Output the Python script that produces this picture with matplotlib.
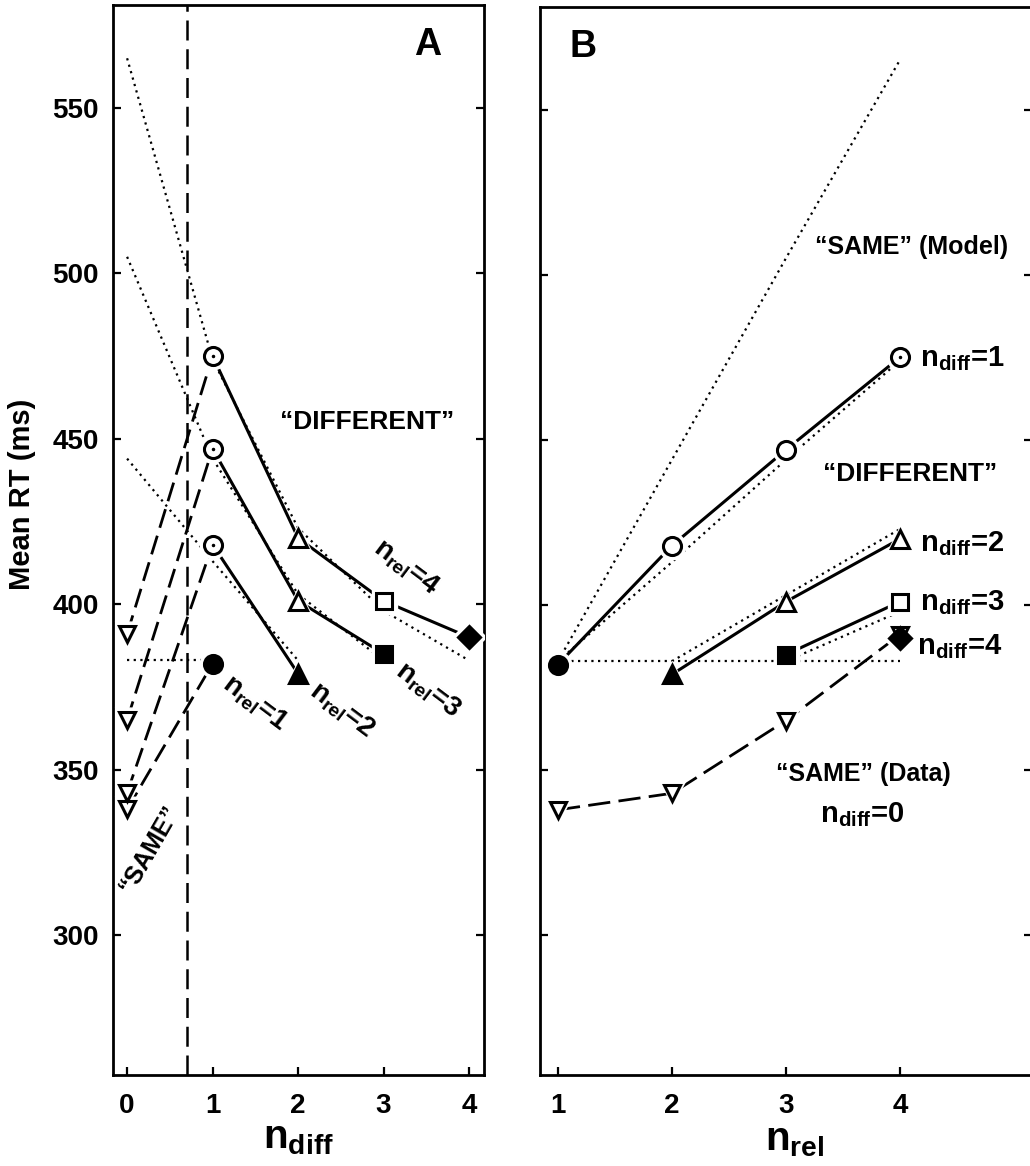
import matplotlib
matplotlib.use('Agg')
import matplotlib.pyplot as plt

plt.rcParams['font.family'] = ['Liberation Sans', 'DejaVu Sans']
plt.rcParams['font.weight'] = 'bold'
plt.rcParams['mathtext.fontset'] = 'custom'
plt.rcParams['mathtext.rm'] = 'Liberation Sans:bold'
plt.rcParams['mathtext.it'] = 'Liberation Sans:bold'
plt.rcParams['mathtext.bf'] = 'Liberation Sans:bold'

# mean RT (ms) for each n_rel, indexed by n_diff (n_diff=0 -> "SAME")
n_diff = [0, 1, 2, 3, 4]
n_rel = [1, 2, 3, 4]
rt_rel1 = [338, 382]
rt_rel2 = [343, 418, 379]
rt_rel3 = [365, 447, 401, 385]
rt_rel4 = [391, 475, 420, 401, 390]

# model predictions (dotted lines)
model_rel1 = [383, 383]
model_rel2 = [444, 413, 383]
model_rel3 = [505, 444, 403, 383]
model_rel4 = [565, 474, 423, 398, 383]

yticks = [300, 350, 400, 450, 500, 550]

rt_data = [rt_rel1, rt_rel2, rt_rel3, rt_rel4]
model = [model_rel1, model_rel2, model_rel3, model_rel4]

markers = ['v', 'o', '^', 's', 'D']   # by n_diff
msizes = [12, 13, 13, 12, 11]
dotted = (0, (1, 2))

fig = plt.figure(figsize=(10.3, 11.66), dpi=100)
ax1 = fig.add_axes([113/1030, 91/1166, 371/1030, 1070/1166])
ax2 = fig.add_axes([540/1030, 91/1166, 492/1030, 1068/1166])


def put_marker(ax, x, y, d, rel, dot=False):
    filled = (d == rel)
    m = markers[d]
    ms = msizes[d]
    ax.plot(x, y, marker=m, ms=ms + 6, color='white', mec='white', zorder=3)
    ax.plot(x, y, marker=m, ms=ms, mfc='black' if filled else 'white',
            mec='black', mew=2.2, zorder=4, linestyle='none')
    if dot:
        ax.plot(x, y, marker='.', ms=3, color='black', zorder=5)


# ---- panel A : x = n_diff
for i, rel in enumerate(n_rel):
    xs = n_diff[:rel + 1]
    rts = rt_data[i]
    ax1.plot(xs, model[i], linestyle=dotted, color='black', lw=1.6, zorder=1)
    ax1.plot(xs[:2], rts[:2], color='black', lw=2, dashes=(7, 3), zorder=2)
    if rel > 1:
        ax1.plot(xs[1:], rts[1:], color='black', lw=2.2, zorder=2)
    for d, v in zip(xs, rts):
        put_marker(ax1, d, v, d, rel, dot=(d == 1 and rel > 1))

ax1.axvline(0.70, color='black', lw=1.8, dashes=(8, 3.5), zorder=1)

ax1.text(3.52, 569, 'A', fontsize=27, ha='center', va='center')
ax1.text(2.81, 455, '\u201cDIFFERENT\u201d', fontsize=19, ha='center', va='center')
ax1.text(3.27, 411, r'$\mathrm{n}_{\mathrm{rel}}$=4', fontsize=20, rotation=-37,
         ha='center', va='center')
ax1.text(3.52, 374, r'$\mathrm{n}_{\mathrm{rel}}$=3', fontsize=20, rotation=-37,
         ha='center', va='center')
ax1.text(2.51, 368, r'$\mathrm{n}_{\mathrm{rel}}$=2', fontsize=20, rotation=-37,
         ha='center', va='center')
ax1.text(1.50, 370, r'$\mathrm{n}_{\mathrm{rel}}$=1', fontsize=20, rotation=-37,
         ha='center', va='center')
ax1.text(0.26, 326, '\u201cSAME\u201d', fontsize=18, rotation=60,
         ha='center', va='center')

ax1.set_xlim(-0.165, 4.175)
ax1.set_xticks(n_diff)

# ---- panel B : x = n_rel
# model lines for fixed n_diff
for d in range(0, 4):
    rels = [r for r in n_rel if r >= max(d, 1)]
    vals = [model[r - 1][d] for r in rels]
    ax2.plot(rels, vals, linestyle=dotted, color='black', lw=1.6, zorder=1)
# model where n_diff = n_rel
ax2.plot(n_rel, [model[r - 1][r] for r in n_rel], linestyle=dotted,
         color='black', lw=1.6, zorder=1)

# "SAME" data
same = [rt_data[r - 1][0] for r in n_rel]
ax2.plot(n_rel, same, color='black', lw=2, dashes=(8, 3), zorder=2)
for r, v in zip(n_rel, same):
    put_marker(ax2, r, v, 0, r)

for d in range(1, 5):
    rels = [r for r in n_rel if r >= d]
    vals = [rt_data[r - 1][d] for r in rels]
    if len(rels) > 1:
        ax2.plot(rels, vals, color='black', lw=2.2, zorder=2)
    for r, v in zip(rels, vals):
        put_marker(ax2, r, v, d, r, dot=(d == 1 and r == 4))

ax2.text(1.22, 569, 'B', fontsize=27, ha='center', va='center')
ax2.text(4.105, 508.5, '\u201cSAME\u201d (Model)', fontsize=18, ha='center', va='center')
ax2.text(4.09, 439.7, '\u201cDIFFERENT\u201d', fontsize=19, ha='center', va='center')
ax2.text(4.175, 474.5, r'$\mathrm{n}_{\mathrm{diff}}$=1', fontsize=21, ha='left', va='center')
ax2.text(4.175, 418.6, r'$\mathrm{n}_{\mathrm{diff}}$=2', fontsize=21, ha='left', va='center')
ax2.text(4.175, 400.6, r'$\mathrm{n}_{\mathrm{diff}}$=3', fontsize=21, ha='left', va='center')
ax2.text(4.15, 387.3, r'$\mathrm{n}_{\mathrm{diff}}$=4', fontsize=21, ha='left', va='center')
ax2.text(3.68, 348.8, '\u201cSAME\u201d (Data)', fontsize=18, ha='center', va='center')
ax2.text(3.67, 336.7, r'$\mathrm{n}_{\mathrm{diff}}$=0', fontsize=21, ha='center', va='center')

ax2.set_xlim(0.842, 5.16)
ax2.set_xticks(n_rel)

for ax in (ax1, ax2):
    ax.set_ylim(257.7, 581.1)
    ax.set_yticks(yticks)
    ax.tick_params(direction='in', length=6, width=1.6, top=False, right=True,
                   labelsize=20, pad=10)
    ax.tick_params(axis='x', pad=13)
    for s in ax.spines.values():
        s.set_linewidth(2)
ax2.set_yticklabels([])

fig.text(22/1030, 1 - 494/1166, 'Mean RT (ms)', rotation=90, fontsize=21,
         ha='center', va='center')
fig.text(298/1030, 1 - 1138/1166, r'$\mathrm{n}_{\mathrm{diff}}$', fontsize=29,
         ha='center', va='center')
fig.text(795/1030, 1 - 1140/1166, r'$\mathrm{n}_{\mathrm{rel}}$', fontsize=29,
         ha='center', va='center')

fig.savefig('out.png', dpi=100)
